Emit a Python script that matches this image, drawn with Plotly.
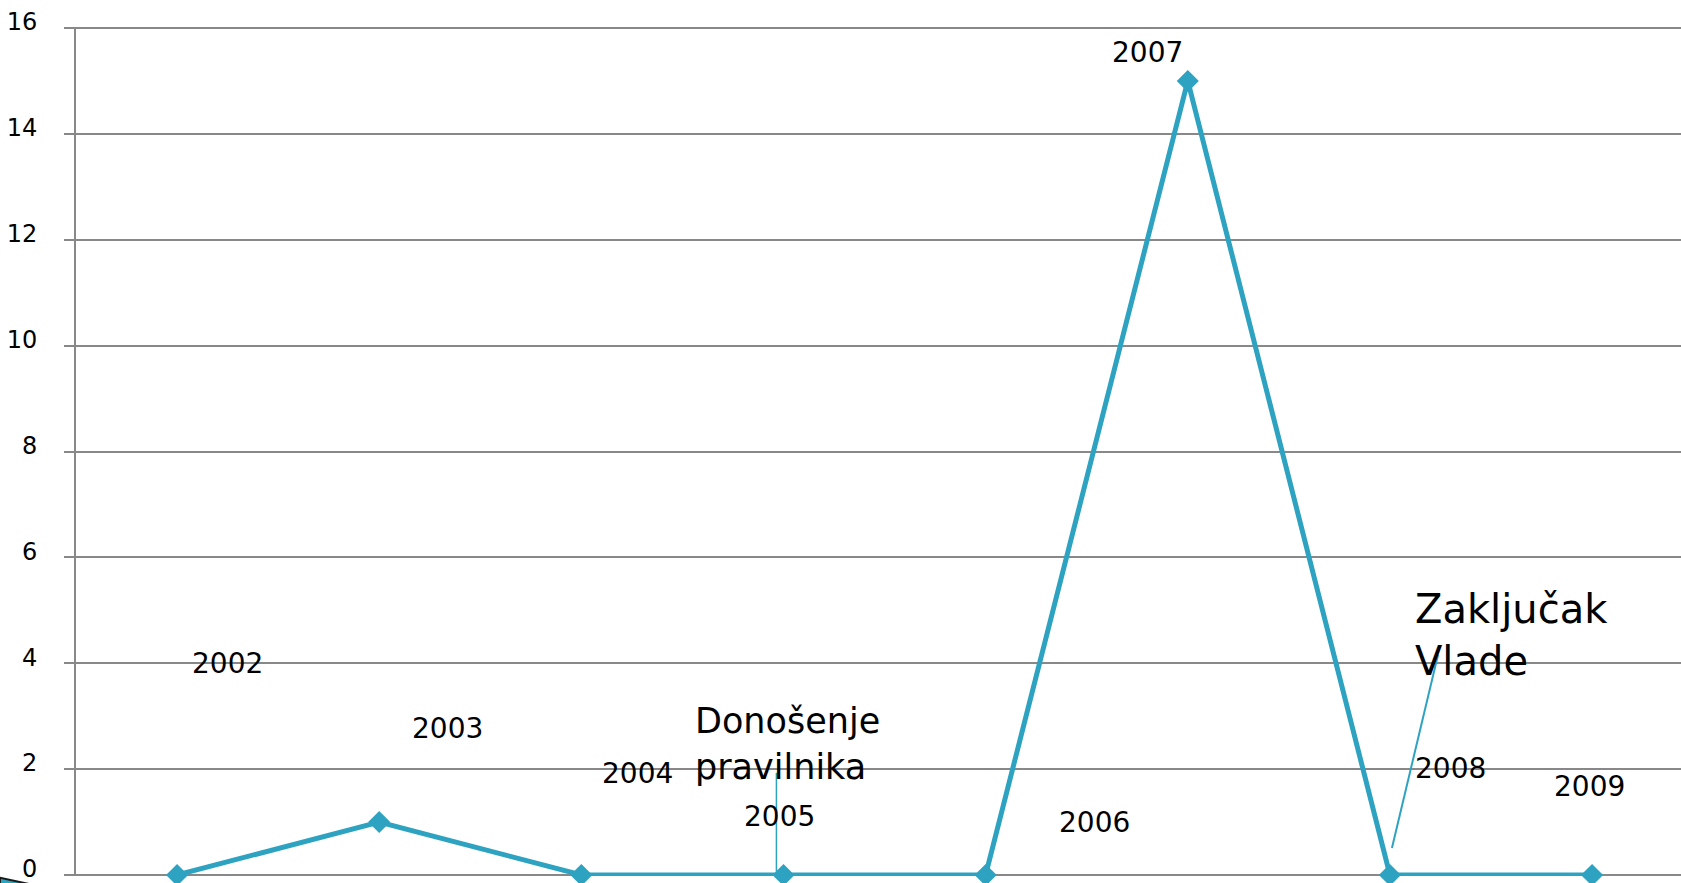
import plotly.graph_objects as go

years = ["2002", "2003", "2004", "2005", "2006", "2007", "2008", "2009"]
values = [0, 1, 0, 0, 0, 15, 0, 0]
y_ticks = [0, 2, 4, 6, 8, 10, 12, 14, 16]

# label placement offsets (x in category units, y in data units)
label_dx = [0.248, 0.34, 0.28, -0.02, 0.54, -0.2, 0.30, -0.015]
label_y = [4.0, 2.76, 1.91, 1.10, 1.0, 15.53, 2.02, 1.68]

teal = "#2EA3C1"
grid = "#888888"

idx = list(range(len(years)))

fig = go.Figure()
fig.add_trace(go.Scatter(
    x=idx, y=values, mode="lines+markers",
    line=dict(color=teal, width=5),
    marker=dict(symbol="diamond", size=17, color=teal),
    cliponaxis=False, hoverinfo="skip", showlegend=False,
))

annotations = []
for i, yr in enumerate(years):
    annotations.append(dict(
        x=i + label_dx[i], y=label_y[i], xref="x", yref="y", text=yr,
        showarrow=False, xanchor="center", yanchor="middle",
        font=dict(family="DejaVu Sans", size=28, color="#000000"),
    ))

annotations.append(dict(
    x=2.55, y=2.47, xref="x", yref="y", text="Donošenje<br>pravilnika",
    showarrow=False, xanchor="left", yanchor="middle", align="left",
    font=dict(family="DejaVu Sans", size=35, color="#000000"),
))
annotations.append(dict(
    x=6.114, y=4.53, xref="x", yref="y", text="Zaključak<br>Vlade",
    showarrow=False, xanchor="left", yanchor="middle", align="left",
    font=dict(family="DejaVu Sans", size=40, color="#000000"),
))

shapes = [
    dict(type="line", xref="x", yref="y", x0=2.965, y0=1.93, x1=2.965, y1=0.06,
         line=dict(color=teal, width=1.5)),
    dict(type="line", xref="x", yref="y", x0=6.238, y0=4.16, x1=6.01, y1=0.51,
         line=dict(color=teal, width=2)),
    # slide decoration fragment at bottom-left
    dict(type="path", xref="paper", yref="paper",
         path="M -0.0474 -0.002 L -0.022 -0.0124 L -0.0474 -0.0124 Z",
         fillcolor=teal, line=dict(color="#1a1a1a", width=2), layer="above"),
]

fig.update_layout(
    width=1681, height=883,
    margin=dict(l=76, r=0, t=27, b=7, autoexpand=False),
    paper_bgcolor="white", plot_bgcolor="white",
    annotations=annotations, shapes=shapes,
    xaxis=dict(range=[-0.5, 7.44], showgrid=False, zeroline=False,
               showticklabels=False, showline=False, ticks="",
               fixedrange=True, automargin=False),
    yaxis=dict(range=[-0.02, 16.02], tickvals=y_ticks, showgrid=True,
               gridcolor=grid, gridwidth=2, zeroline=False,
               showline=True, linecolor=grid, linewidth=2,
               ticks="outside", ticklen=10, tickwidth=2, tickcolor=grid,
               ticklabelstandoff=22, ticklabeloverflow="allow",
               ticklabelshift=-6, automargin=False,
               tickfont=dict(family="DejaVu Sans", size=24, color="#000000")),
)

fig.write_html("out.html", config={"displayModeBar": False},
               post_script="document.body.style.margin='0';document.body.style.overflow='hidden';")
